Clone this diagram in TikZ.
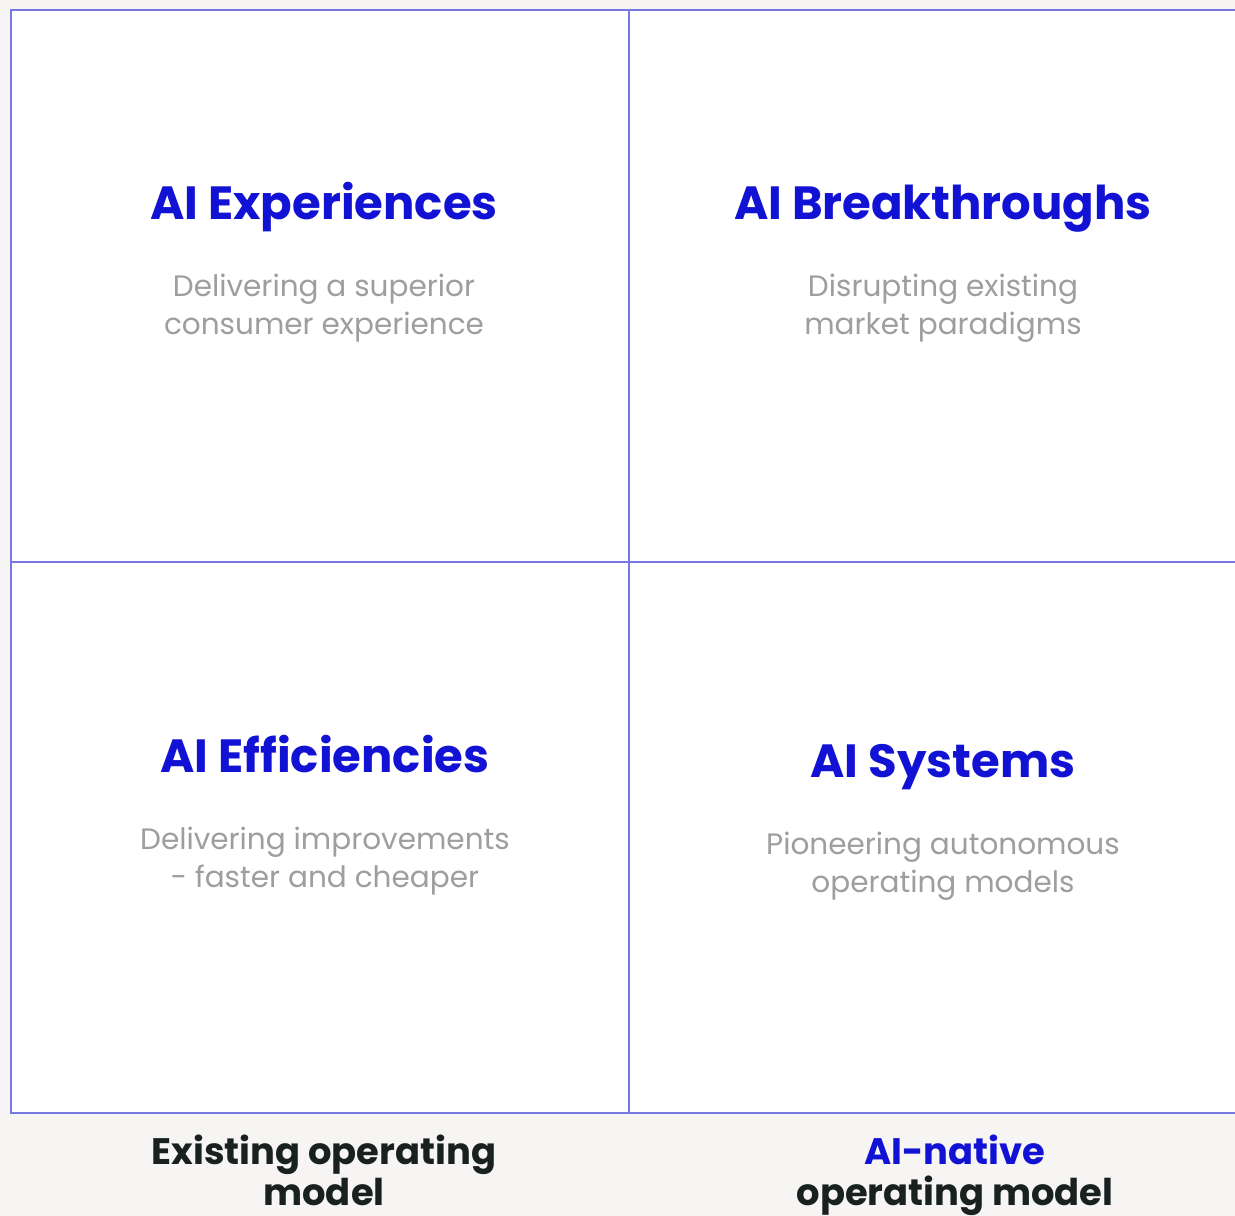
\documentclass[tikz,border=0pt]{standalone}
\usepackage{fontspec}
\setmainfont{Poppins}
\usetikzlibrary{positioning}
\definecolor{gridColor}{RGB}{120,120,228}
\definecolor{titleColor}{RGB}{18,18,212}
\definecolor{subColor}{RGB}{158,158,158}
\definecolor{paperColor}{RGB}{246,245,243}
\definecolor{labelColor}{RGB}{24,32,32}
\tikzstyle{plane} = [x = 0.02cm, y = -0.02cm]
\tikzstyle{gridLine} = [color=gridColor, line width=0.9pt]
\tikzstyle{quadrantTitle} = [color=titleColor, font=\fontsize{26.5}{32}\selectfont\bfseries, anchor=base, inner sep=0pt]
\tikzstyle{quadrantText} = [color=subColor, font=\fontsize{16.8}{21.5}\selectfont, anchor=base, inner sep=0pt]
\tikzstyle{axisLabel} = [color=labelColor, font=\fontsize{21}{24.4}\selectfont\bfseries, anchor=base, inner sep=0pt]
\newcommand{\quadrant}[6]{
  \node [quadrantTitle] (#1Title) at (#2, #3) {#4};
  \node [quadrantText] (#1LineA) at (#2, #3 + 77) {#5};
  \node [quadrantText] (#1LineB) at (#2, #3 + 115) {#6};
}
\begin{document}
\begin{tikzpicture}[plane]
  % paper and white field
  \fill [paperColor] (0, 0) rectangle (1235, 1216);
  \fill [white] (11, 10) rectangle (1235, 1113);
  \useasboundingbox (0, 0) rectangle (1235, 1216);

  % grid
  \draw [gridLine] (1235, 10) -- (11, 10) -- (11, 1113) -- (1235, 1113);
  \draw [gridLine] (629, 10) -- (629, 1113);
  \draw [gridLine] (11, 562) -- (1235, 562);

  % quadrants
  \quadrant{experiences}{324}{220}{AI Experiences}{Delivering a superior}{consumer experience}
  \quadrant{breakthroughs}{943}{220}{AI Breakthroughs}{Disrupting existing}{market paradigms}
  \quadrant{efficiencies}{325}{772}{AI Efficiencies}{Delivering improvements}{- faster and cheaper}
  \quadrant{systems}{943}{777}{AI Systems}{Pioneering autonomous}{operating models}

  % axis labels
  \node [axisLabel] (existingA) at (324, 1164) {Existing operating};
  \node [axisLabel] (existingB) at (324, 1205) {model};
  \node [axisLabel, color=titleColor] (nativeA) at (955, 1164) {AI-native};
  \node [axisLabel] (nativeB) at (955, 1205) {operating model};
\end{tikzpicture}
\end{document}
